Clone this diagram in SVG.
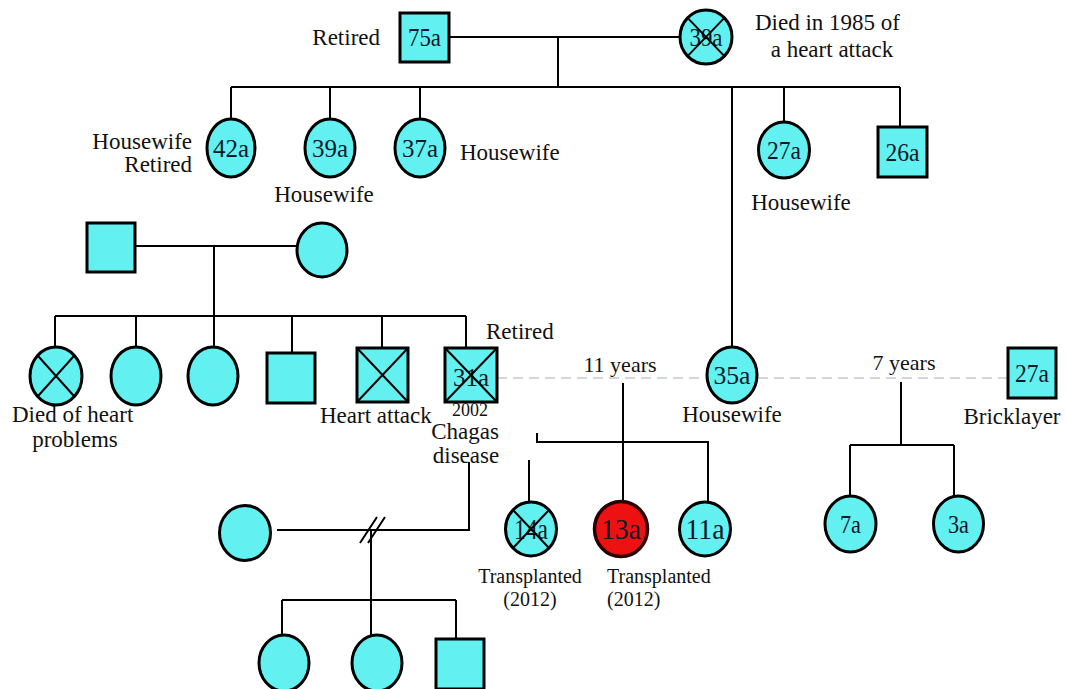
<svg xmlns="http://www.w3.org/2000/svg" width="1066" height="689" viewBox="0 0 1066 689">
  <style>
    .n { fill: #62f0f0; stroke: #000; stroke-width: 3; }
    .red { fill: #ee1111; stroke: #2a0000; stroke-width: 3.5; }
    .x { stroke: #000; stroke-width: 2; fill: none; }
    .l { stroke: #000; stroke-width: 2; fill: none; }
    .dash { stroke: #c8c8c8; stroke-width: 1.5; stroke-dasharray: 10 6; fill: none; }
    text { font-family: "Liberation Serif", "Times New Roman", serif; fill: #111; }
    .t { font-size: 23px; }
    .s { font-size: 20px; }
    .k { font-size: 26px; text-anchor: middle; fill: #0a1a2a; }
    .kb { font-size: 29px; text-anchor: middle; fill: #0a1a2a; }
  </style>

  <rect width="1066" height="689" fill="#fff"/>

  <!-- connectors -->
  <g id="connectors">
    <!-- generation I couple and sibship -->
    <path class="l" d="M449 37 H680 M558 37 V87 M231 87 H900"/>
    <path class="l" d="M231 87 V119 M330 87 V119 M420 87 V119 M732 87 V347 M784 87 V122 M900 87 V127"/>
    <!-- second family couple and sibship -->
    <path class="l" d="M135 246 H297 M214 246 V316 M55 316 H466"/>
    <path class="l" d="M55 316 V347 M136 316 V347 M214 316 V347 M292 316 V353 M382 316 V348 M466 316 V348"/>
    <!-- non-married unions -->
    <path class="dash" d="M497 378 H707 M758 378 H1008"/>
    <!-- children of 31a and 35a -->
    <path class="l" d="M623 383 V501 M537 433 V442 H708 V502 M529 460 V502"/>
    <!-- children of 35a and 27a -->
    <path class="l" d="M901 382 V445 M850 445 H954 M850 445 V496 M954 445 V496"/>
    <!-- divorced union of 31a -->
    <path class="l" d="M469 462 V530 H277 M371 530 V600 M282 600 H456 M282 600 V635 M371 600 V635 M456 600 V639"/>
    <path class="l" d="M360 543 L377 517 M368 543 L385 517"/>
  </g>

  <!-- generation I -->
  <g id="n75a">
    <rect class="n" x="400" y="13" width="49" height="49"/>
    <text class="k" x="424.5" y="46" textLength="33" lengthAdjust="spacingAndGlyphs">75a</text>
  </g>
  <g id="n39a-top">
    <ellipse class="n" cx="706" cy="37" rx="26" ry="27"/>
    <text class="k" x="706" y="46" textLength="33" lengthAdjust="spacingAndGlyphs">39a</text>
    <path class="x" d="M687.6 17.9 L724.4 56.1 M724.4 17.9 L687.6 56.1"/>
  </g>

  <!-- generation II -->
  <g id="n42a">
    <ellipse class="n" cx="231" cy="148" rx="24" ry="29"/>
    <text class="k" x="231" y="157" textLength="36" lengthAdjust="spacingAndGlyphs">42a</text>
  </g>
  <g id="n39a">
    <ellipse class="n" cx="330" cy="148" rx="25" ry="29"/>
    <text class="k" x="330" y="157" textLength="36" lengthAdjust="spacingAndGlyphs">39a</text>
  </g>
  <g id="n37a">
    <ellipse class="n" cx="420" cy="148" rx="25" ry="29"/>
    <text class="k" x="420" y="157" textLength="36" lengthAdjust="spacingAndGlyphs">37a</text>
  </g>
  <g id="n27a">
    <ellipse class="n" cx="784" cy="150" rx="25.5" ry="28"/>
    <text class="k" x="784" y="159" textLength="34" lengthAdjust="spacingAndGlyphs">27a</text>
  </g>
  <g id="n26a">
    <rect class="n" x="878" y="127" width="49" height="50"/>
    <text class="k" x="902.5" y="161" textLength="34" lengthAdjust="spacingAndGlyphs">26a</text>
  </g>
  <g id="n35a">
    <ellipse class="n" cx="732" cy="375" rx="25" ry="28"/>
    <text class="k" x="732" y="384" textLength="37" lengthAdjust="spacingAndGlyphs">35a</text>
  </g>

  <!-- second family parents -->
  <g id="f2-father">
    <rect class="n" x="87" y="223" width="48" height="49"/>
  </g>
  <g id="f2-mother">
    <ellipse class="n" cx="322" cy="250" rx="25" ry="27"/>
  </g>

  <!-- second family children -->
  <g id="s1">
    <ellipse class="n" cx="56" cy="376" rx="26" ry="29"/>
    <path class="x" d="M37.6 355.5 L74.4 396.5 M74.4 355.5 L37.6 396.5"/>
  </g>
  <g id="s2">
    <ellipse class="n" cx="136" cy="376" rx="25" ry="29"/>
  </g>
  <g id="s3">
    <ellipse class="n" cx="213" cy="376" rx="25" ry="29"/>
  </g>
  <g id="s4">
    <rect class="n" x="267" y="353" width="48" height="50"/>
  </g>
  <g id="s5">
    <rect class="n" x="357" y="348" width="51" height="54"/>
    <path class="x" d="M357 348 L408 402 M408 348 L357 402"/>
  </g>
  <g id="n31a">
    <rect class="n" x="445" y="348" width="52" height="54"/>
    <text class="k" x="471" y="386" textLength="36" lengthAdjust="spacingAndGlyphs">31a</text>
    <path class="x" d="M445 348 L497 402 M497 348 L445 402"/>
  </g>
  <g id="n27a-m">
    <rect class="n" x="1008" y="348" width="48" height="50"/>
    <text class="k" x="1032" y="382" textLength="34" lengthAdjust="spacingAndGlyphs">27a</text>
  </g>

  <!-- generation III -->
  <g id="n14a">
    <ellipse class="n" cx="531" cy="529" rx="25.5" ry="27"/>
    <text class="kb" x="531" y="539" textLength="34" lengthAdjust="spacingAndGlyphs">14a</text>
    <path class="x" d="M513 510 L549 548 M549 510 L513 548"/>
  </g>
  <g id="n13a">
    <ellipse class="red" cx="621" cy="529" rx="26.5" ry="27.5"/>
    <text class="kb" x="621" y="539" textLength="40" lengthAdjust="spacingAndGlyphs">13a</text>
  </g>
  <g id="n11a">
    <ellipse class="n" cx="705" cy="529" rx="25.5" ry="27"/>
    <text class="kb" x="705" y="539" textLength="39" lengthAdjust="spacingAndGlyphs">11a</text>
  </g>
  <g id="n7a">
    <ellipse class="n" cx="850.5" cy="524" rx="25.5" ry="28"/>
    <text class="k" x="850.5" y="533" textLength="21" lengthAdjust="spacingAndGlyphs">7a</text>
  </g>
  <g id="n3a">
    <ellipse class="n" cx="958.5" cy="524" rx="25" ry="28"/>
    <text class="k" x="958.5" y="533" textLength="21" lengthAdjust="spacingAndGlyphs">3a</text>
  </g>
  <g id="ex-wife">
    <ellipse class="n" cx="245" cy="533" rx="25.5" ry="27.5"/>
  </g>
  <g id="c1">
    <ellipse class="n" cx="284" cy="663" rx="25" ry="28"/>
  </g>
  <g id="c2">
    <ellipse class="n" cx="377" cy="663" rx="25" ry="28"/>
  </g>
  <g id="c3">
    <rect class="n" x="436" y="639" width="48" height="50"/>
  </g>

  <!-- annotations -->
  <g id="labels">
    <text class="t" x="380" y="45" text-anchor="end">Retired</text>
    <text class="t" x="755" y="30" font-size="24">Died in 1985 of</text>
    <text class="t" x="832" y="57" text-anchor="middle">a heart attack</text>
    <text class="t" x="192" y="149" text-anchor="end">Housewife</text>
    <text class="t" x="192" y="172" text-anchor="end">Retired</text>
    <text class="t" x="324" y="202" text-anchor="middle">Housewife</text>
    <text class="t" x="460" y="160">Housewife</text>
    <text class="t" x="801" y="210" text-anchor="middle">Housewife</text>
    <text class="t" x="486" y="339">Retired</text>
    <text class="t" x="12" y="422">Died of heart</text>
    <text class="t" x="75" y="447" text-anchor="middle">problems</text>
    <text class="t" x="320" y="423">Heart attack</text>
    <text x="470" y="416" font-size="18" text-anchor="middle">2002</text>
    <text class="t" x="465" y="439" text-anchor="middle">Chagas</text>
    <text class="t" x="466" y="463" text-anchor="middle">disease</text>
    <text x="620" y="372" font-size="22" text-anchor="middle">11 years</text>
    <text class="t" x="732" y="422" text-anchor="middle">Housewife</text>
    <text x="904" y="370" font-size="22" text-anchor="middle">7 years</text>
    <text class="t" x="1012" y="424" text-anchor="middle">Bricklayer</text>
    <text class="s" x="530" y="583" text-anchor="middle">Transplanted</text>
    <text class="s" x="530" y="606" text-anchor="middle">(2012)</text>
    <text class="s" x="607" y="583">Transplanted</text>
    <text class="s" x="607" y="606">(2012)</text>
  </g>
</svg>
